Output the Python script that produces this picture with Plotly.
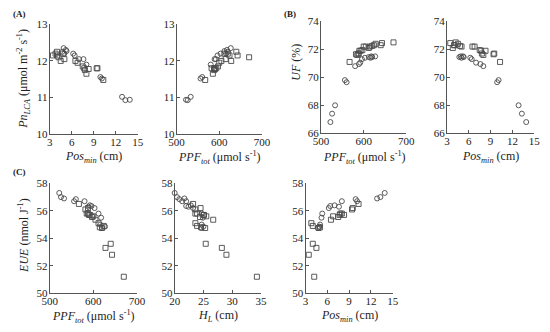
import plotly.graph_objects as go

# ---- data: circles (series 1) ----
c_pos = [13.9, 13.3, 12.85, 10.1, 9.9, 8.0, 7.6, 7.0, 6.4, 6.2, 5.3, 5.2, 5.0, 4.9, 4.7]
c_ppf = [522, 526, 533, 556, 560, 580, 589, 592, 596, 603, 612, 618, 616, 627, 620]
c_hl = [20.0, 20.4, 21.7, 22.0, 20.8, 21.3, 22.4, 22.8, 22.0, 23.2, 24.7, 24.9, 24.7, 25.0, 24.6]
c_pn = [10.94, 10.93, 11.02, 11.52, 11.56, 11.9, 12.05, 12.05, 12.15, 12.2, 12.27, 12.3, 12.2, 12.35, 12.25]
c_uf = [66.8, 67.4, 68.0, 69.8, 69.65, 70.8, 70.95, 71.05, 71.3, 71.4, 71.45, 71.5, 71.4, 71.5, 71.45]
c_eue = [57.3, 57.0, 56.9, 56.7, 56.85, 56.7, 56.3, 56.4, 56.35, 56.2, 55.8, 55.5, 55.0, 54.85, 54.75]

# ---- data: squares (series 2) ----
s_pos = [4.2, 3.45, 4.0, 4.5, 4.0, 4.8, 5.0, 3.8, 6.5, 6.8, 7.5, 7.7, 7.8, 8.0, 8.3, 9.4, 9.5, 10.3]
s_ppf = [670, 643, 640, 628, 624, 620, 615, 612, 605, 600, 597, 593, 588, 585, 590, 582, 588, 567]
s_hl = [34.3, 29.0, 25.4, 28.2, 23.9, 25.3, 24.6, 23.6, 26.7, 25.5, 24.4, 25.0, 23.9, 23.6, 25.1, 23.6, 24.5, 23.2]
s_pn = [12.1, 12.15, 12.25, 12.0, 12.15, 12.2, 12.05, 12.2, 12.0, 11.95, 11.85, 11.8, 11.75, 11.65, 11.78, 11.8, 11.8, 11.48]
s_uf = [72.5, 72.45, 72.3, 72.4, 72.3, 72.25, 72.2, 72.1, 72.2, 72.2, 71.95, 71.9, 71.7, 71.6, 71.9, 71.65, 71.7, 71.1]
s_eue = [51.2, 52.8, 53.6, 53.3, 54.9, 54.75, 54.8, 55.1, 55.35, 55.6, 55.55, 55.7, 55.8, 55.8, 55.7, 56.1, 56.2, 56.5]

# ticks
pos_ticks = [3, 6, 9, 12, 15]
ppf_ticks = [500, 600, 700]
hl_ticks = [20, 25, 30, 35]
pn_ticks = [10, 11, 12, 13]
uf_ticks = [66, 68, 70, 72, 74]
eue_ticks = [50, 52, 54, 56, 58]

W, H = 550, 332
FONT = "Liberation Serif"
AX = "#555555"
MK = "#4a4a4a"

def px(x0, x1):
    return [x0 / W, x1 / W]

def py(y_top, y_bot):
    return [1 - y_bot / H, 1 - y_top / H]

panels = [
    (c_pos, c_pn, s_pos, s_pn, px(43, 134), py(19, 133), [3, 15], [10, 13], pos_ticks, pn_ticks),
    (c_ppf, c_pn, s_ppf, s_pn, px(174, 262), py(19, 133), [500, 700], [10, 13], ppf_ticks, pn_ticks),
    (c_ppf, c_uf, s_ppf, s_uf, px(323, 411), py(16, 132), [500, 700], [66, 74], ppf_ticks, uf_ticks),
    (c_pos, c_uf, s_pos, s_uf, px(453, 543), py(16, 132), [3, 15], [66, 74], pos_ticks, uf_ticks),
    (c_ppf, c_eue, s_ppf, s_eue, px(43, 133), py(184, 298), [500, 700], [50, 58], ppf_ticks, eue_ticks),
    (c_hl, c_eue, s_hl, s_eue, px(172, 261), py(184, 298), [20, 35], [50, 58], hl_ticks, eue_ticks),
    (c_pos, c_eue, s_pos, s_eue, px(307, 397), py(184, 298), [3, 15], [50, 58], pos_ticks, eue_ticks),
]

fig = go.Figure()
layout = dict(
    width=W, height=H, autosize=False,
    margin=dict(l=0, r=0, t=0, b=0),
    paper_bgcolor="white", plot_bgcolor="white",
    showlegend=False,
    font=dict(family=FONT, size=11, color="#222222"),
)

for i, (xc, yc, xs, ys, xd, yd, xr, yr, xt, yt) in enumerate(panels):
    n = "" if i == 0 else str(i + 1)
    xa, ya = "x" + n, "y" + n
    fig.add_trace(go.Scatter(x=xs, y=ys, mode="markers", xaxis=xa, yaxis=ya,
                             marker=dict(symbol="square-open", size=5, color=MK, line=dict(width=0.9)),
                             cliponaxis=False))
    fig.add_trace(go.Scatter(x=xc, y=yc, mode="markers", xaxis=xa, yaxis=ya,
                             marker=dict(symbol="circle-open", size=5, color=MK, line=dict(width=0.9)),
                             cliponaxis=False))
    common = dict(showline=True, linecolor=AX, linewidth=1, showgrid=False, zeroline=False,
                  ticks="inside", ticklen=3, tickcolor=AX, tickwidth=1,
                  ticklabeloverflow="allow",
                  tickfont=dict(family=FONT, size=11, color="#222222"), mirror=False)
    layout["xaxis" + n] = dict(domain=xd, range=xr, tickvals=xt, anchor=ya, ticklabelstandoff=-2, **common)
    layout["yaxis" + n] = dict(domain=yd, range=yr, tickvals=yt, anchor=xa, ticklabelstandoff=-1, **common)

fig.update_layout(**layout)

pos_title = "<i>Pos</i><sub><i>min</i></sub> (cm)"
ppf_title = "<i>PPF</i><sub><i>tot</i></sub> (μmol s<sup>-1</sup>)"
titles = [
    (88, 157, pos_title, 0),
    (218, 157, ppf_title, 0),
    (368, 157, ppf_title, 0),
    (498, 157, pos_title, 0),
    (88, 322, ppf_title, 0),
    (217, 322, "<i>H</i><sub><i>L</i></sub> (cm)", 0),
    (352, 322, pos_title, 0),
    (16, 76, "<i>Pn</i><sub><i>LCA</i></sub> (μmol m<sup>-2</sup> s<sup>-1</sup>)", -90),
    (297, 58, "<i>UF</i> (%)", -90),
    (16, 238, "<i>EUE</i> (nmol J<sup>-1</sup>)", -90),
]
for x, y, t, ang in titles:
    fig.add_annotation(x=x / W, y=1 - y / H, xref="paper", yref="paper", text=t, showarrow=False,
                       textangle=ang, xanchor="center", yanchor="middle",
                       font=dict(family=FONT, size=12, color="#222222"))

for x, y, t in [(3, 8, "(A)"), (283, 8, "(B)"), (3, 172, "(C)")]:
    fig.add_annotation(x=x / W, y=1 - y / H, xref="paper", yref="paper", text="<b>" + t + "</b>",
                       showarrow=False, xanchor="left", yanchor="middle",
                       font=dict(family=FONT, size=9, color="#222222"))

fig.write_html("out.html", config={"displayModeBar": False, "responsive": False},
               post_script="document.body.style.margin='0px';")
